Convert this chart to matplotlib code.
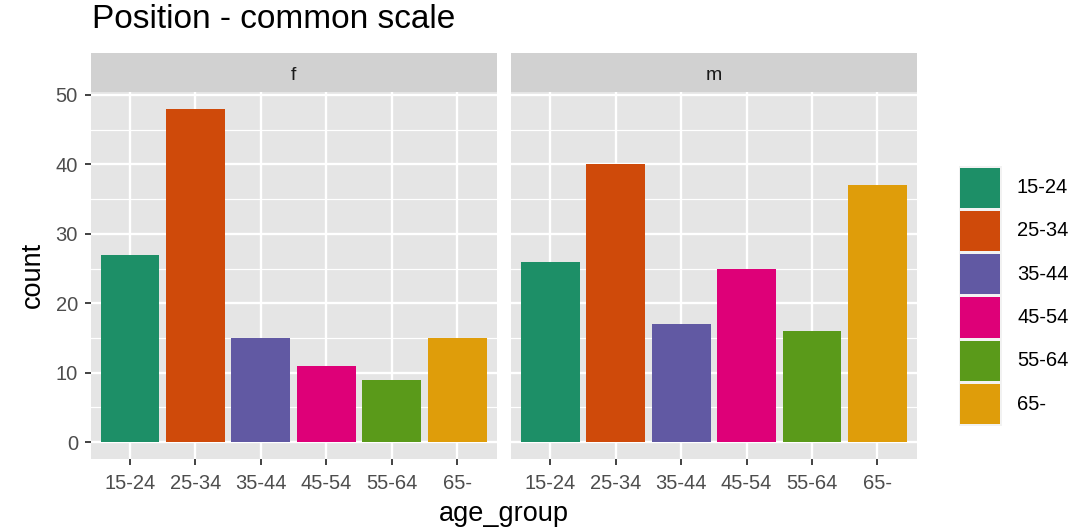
import matplotlib
matplotlib.use("Agg")
import matplotlib.pyplot as plt
from matplotlib.patches import Rectangle

categories = ["15-24", "25-34", "35-44", "45-54", "55-64", "65-"]
panels = ["f", "m"]
counts_f = [27, 48, 15, 11, 9, 15]
counts_m = [26, 40, 17, 25, 16, 37]
colors = ["#1D8F67", "#CF4A0A", "#6159A3", "#DE0078", "#5A9A1A", "#DF9D0A"]
yticks = [0, 10, 20, 30, 40, 50]

plt.rcParams['font.family'] = ['Liberation Sans', 'DejaVu Sans']

W, H = 1090, 529
fig = plt.figure(figsize=(W / 100, H / 100), dpi=100)

def fx(px):
    return px / W

def fy(py):
    return 1 - py / H

panel_top, panel_bot = 92.2, 458.7
strip_top = 53
lefts = [(90.7, 496.7), (511, 916.7)]
data = [counts_f, counts_m]
x = list(range(len(categories)))

for i, (l, r) in enumerate(lefts):
    ax = fig.add_axes([fx(l), fy(panel_bot), fx(r - l), (panel_bot - panel_top) / H])
    ax.set_facecolor("#E5E5E5")
    ax.bar(x, data[i], width=0.9, color=colors, zorder=3)
    ax.set_xlim(-0.6, len(categories) - 0.4)
    ax.set_ylim(-2.4, 50.4)
    ax.set_yticks(yticks)
    ax.set_yticks([5, 15, 25, 35, 45], minor=True)
    ax.set_xticks(x)
    ax.set_xticklabels(categories)
    ax.grid(which="major", color="white", linewidth=1.7, zorder=1)
    ax.grid(which="minor", axis="y", color="white", linewidth=0.85, zorder=1)
    for s in ax.spines.values():
        s.set_visible(False)
    ax.tick_params(which="major", length=4.2, width=1.3, color="#333333",
                   labelcolor="#4D4D4D", labelsize=14.5)
    ax.tick_params(axis="x", pad=7)
    ax.tick_params(axis="y", pad=5)
    ax.tick_params(which="minor", length=0)
    if i != 0:
        ax.tick_params(axis="y", which="both", left=False, labelleft=False)
    # strip
    sax = fig.add_axes([fx(l), fy(panel_top), fx(r - l), (panel_top - strip_top) / H])
    sax.set_facecolor("#D1D1D1")
    sax.set_xticks([]); sax.set_yticks([])
    for s in sax.spines.values():
        s.set_visible(False)
    sax.text(0.5, 0.42, panels[i], ha="center", va="center", fontsize=14, color="#1A1A1A",
             transform=sax.transAxes)

fig.text(fx(504), fy(514), "age_group", ha="center", va="center", fontsize=19.5)
fig.text(fx(33), fy(275), "count", ha="center", va="center", fontsize=19.5, rotation=90)
fig.text(fx(92), fy(20), "Position - common scale", ha="left", va="center", fontsize=24)

# legend
lax = fig.add_axes([0, 0, 1, 1], facecolor="none")
lax.set_xlim(0, W); lax.set_ylim(H, 0)
lax.axis("off")
key_h = 43.3
top = 166
for j, (cat, c) in enumerate(zip(categories, colors)):
    y0 = top + j * key_h
    lax.add_patch(Rectangle((958.5, y0), 43, key_h, facecolor="#F2F2F2", edgecolor="none"))
    lax.add_patch(Rectangle((960, y0 + 1.5), 40, key_h - 3, facecolor=c, edgecolor="none"))
    lax.text(1017, y0 + key_h / 2, cat, ha="left", va="center", fontsize=14.5, color="black")

fig.savefig("out.png", dpi=100)
